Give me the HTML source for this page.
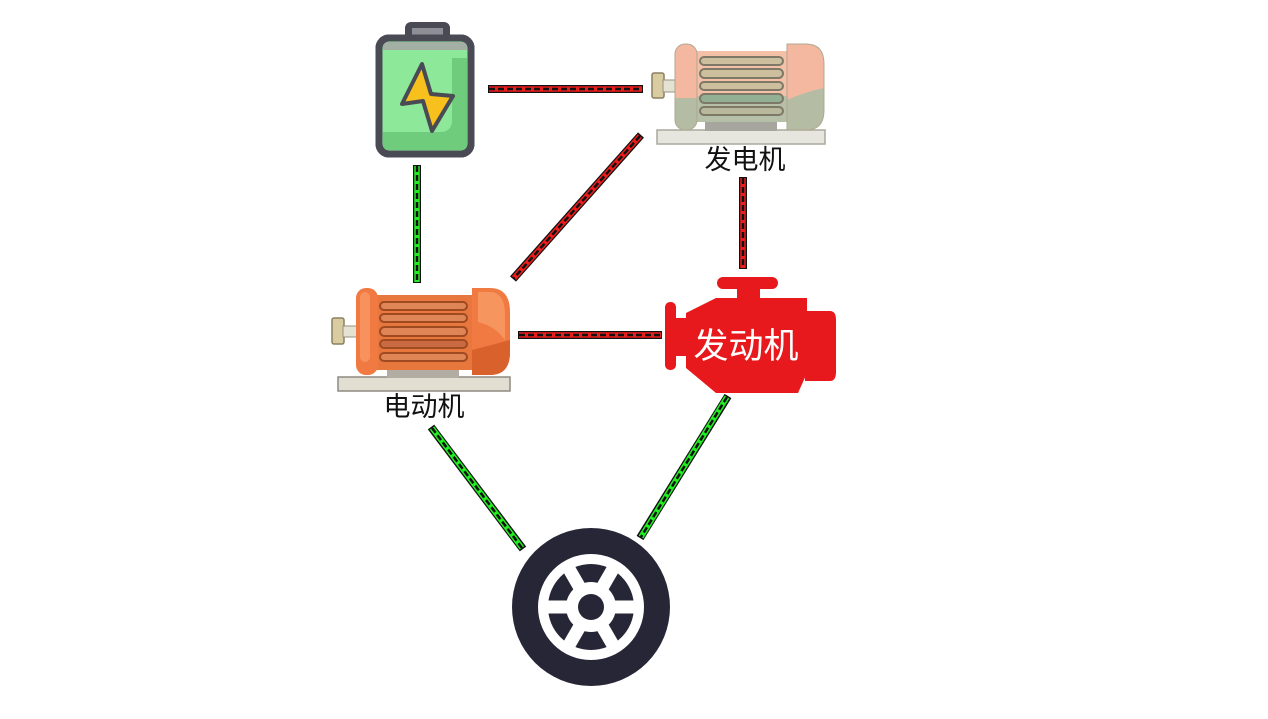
<!DOCTYPE html>
<html><head><meta charset="utf-8"><style>
html,body{margin:0;padding:0;background:#fff;}
svg{display:block;}
text{font-family:"Liberation Sans","Noto Sans CJK SC",sans-serif;}
</style></head><body>
<svg width="1268" height="719" viewBox="0 0 1268 719" xmlns="http://www.w3.org/2000/svg">
<defs>
<clipPath id="gcapL"><rect x="675" y="44" width="22" height="86" rx="10"/></clipPath>
<clipPath id="gcapR"><path d="M787 44 H806 Q824 44 824 64 V110 Q824 130 806 130 H787 Z"/></clipPath>
</defs>
<!-- connectors -->
<g fill="none" stroke-linecap="butt">
 <!-- red -->
 <g>
  <line x1="488" y1="89" x2="643" y2="89" stroke="#111" stroke-width="8"/>
  <line x1="489" y1="89" x2="642" y2="89" stroke="#ee1c1c" stroke-width="5.5"/>
  <line x1="489" y1="89" x2="642" y2="89" stroke="#111" stroke-width="2.5" stroke-dasharray="6 3"/>

  <line x1="641" y1="135" x2="513" y2="279" stroke="#111" stroke-width="8"/>
  <line x1="640" y1="136" x2="514" y2="278" stroke="#ee1c1c" stroke-width="5.5"/>
  <line x1="640" y1="136" x2="514" y2="278" stroke="#111" stroke-width="2.5" stroke-dasharray="6 3"/>

  <line x1="743" y1="177" x2="743" y2="269" stroke="#111" stroke-width="8"/>
  <line x1="743" y1="178" x2="743" y2="268" stroke="#ee1c1c" stroke-width="5.5"/>
  <line x1="743" y1="178" x2="743" y2="268" stroke="#111" stroke-width="2.5" stroke-dasharray="6 3"/>

  <line x1="518" y1="335" x2="662" y2="335" stroke="#111" stroke-width="8"/>
  <line x1="519" y1="335" x2="661" y2="335" stroke="#ee1c1c" stroke-width="5.5"/>
  <line x1="519" y1="335" x2="661" y2="335" stroke="#111" stroke-width="2.5" stroke-dasharray="6 3"/>
 </g>
 <!-- green -->
 <g>
  <line x1="417" y1="165" x2="417" y2="283" stroke="#111" stroke-width="8"/>
  <line x1="417" y1="166" x2="417" y2="282" stroke="#22ee22" stroke-width="5.5"/>
  <line x1="417" y1="166" x2="417" y2="282" stroke="#111" stroke-width="2.5" stroke-dasharray="6 3"/>

  <line x1="431" y1="427" x2="523" y2="549" stroke="#111" stroke-width="8"/>
  <line x1="432" y1="428" x2="522" y2="548" stroke="#22ee22" stroke-width="5.5"/>
  <line x1="432" y1="428" x2="522" y2="548" stroke="#111" stroke-width="2.5" stroke-dasharray="6 3"/>

  <line x1="728" y1="396" x2="640" y2="538" stroke="#111" stroke-width="8"/>
  <line x1="727" y1="397" x2="641" y2="537" stroke="#22ee22" stroke-width="5.5"/>
  <line x1="727" y1="397" x2="641" y2="537" stroke="#111" stroke-width="2.5" stroke-dasharray="6 3"/>
 </g>
</g>

<!-- battery -->
<g>
 <rect x="405" y="22" width="45" height="20" rx="6" fill="#4a4a54"/>
 <rect x="412" y="28" width="31" height="8" fill="#8e8e96"/>
 <rect x="379" y="38" width="92" height="116" rx="10" fill="#8ee89a" stroke="#4a4a54" stroke-width="7"/>
 <path d="M452 58 H467 V150 H383 V132 H440 Q452 132 452 120 Z" fill="#6fcc7c"/>
 <rect x="383" y="42" width="84" height="8" fill="#a3aea4"/>
 <rect x="379" y="38" width="92" height="116" rx="10" fill="none" stroke="#4a4a54" stroke-width="7"/>
 <path d="M422 64 L402 104 L423 101 L432 131 L453 96 L431 94 Z" fill="#f8c01c" stroke="#4a4a54" stroke-width="4" stroke-linejoin="round"/>
</g>

<!-- generator -->
<g>
 <rect x="652" y="73" width="12" height="25" rx="2" fill="#d8cca0" stroke="#8a8060" stroke-width="1.5"/>
 <rect x="663" y="80" width="14" height="12" fill="#e4e2d2" stroke="#999080" stroke-width="1"/>
 <rect x="657" y="130" width="168" height="14" fill="#e6e6de" stroke="#a8a89c" stroke-width="1.5"/>
 <rect x="705" y="120" width="72" height="11" fill="#a6a69e"/>
 <rect x="694" y="51" width="94" height="71" fill="#f4c0a8"/>
 <rect x="694" y="96" width="94" height="26" fill="#b6c0a8"/>
 <g clip-path="url(#gcapL)">
  <rect x="675" y="44" width="22" height="86" fill="#f4b8a0"/>
  <rect x="675" y="98" width="22" height="32" fill="#b4bca4"/>
 </g>
 <rect x="675" y="44" width="22" height="86" rx="10" fill="none" stroke="#b0a890" stroke-width="1"/>
 <g clip-path="url(#gcapR)">
  <rect x="787" y="44" width="37" height="86" fill="#f4b8a0"/>
  <path d="M787 100 Q805 92 824 88 V130 H787 Z" fill="#b4bca4"/>
 </g>
 <path d="M787 44 H806 Q824 44 824 64 V110 Q824 130 806 130 H787 Z" fill="none" stroke="#b0a890" stroke-width="1"/>
 <g stroke="#7e7866" stroke-width="2">
  <rect x="700" y="57" width="83" height="8" rx="4" fill="#cdbf9e"/>
  <rect x="700" y="69" width="83" height="9" rx="4.5" fill="#cdbf9e"/>
  <rect x="700" y="82" width="83" height="8" rx="4" fill="#cdbf9e"/>
  <rect x="700" y="94" width="83" height="9" rx="4.5" fill="#94b094"/>
  <rect x="700" y="107" width="83" height="8" rx="4" fill="#b8b89c"/>
 </g>
 <text x="745" y="169" font-size="27" text-anchor="middle" fill="#111">发电机</text>
</g>

<!-- motor -->
<g>
 <rect x="332" y="318" width="12" height="26" rx="2" fill="#d8cca0" stroke="#8a8060" stroke-width="1.5"/>
 <rect x="343" y="326" width="15" height="11" fill="#e4e2d2" stroke="#999080" stroke-width="1"/>
 <rect x="338" y="377" width="172" height="14" fill="#e2ded2" stroke="#8e8a80" stroke-width="1.5"/>
 <rect x="387" y="369" width="72" height="9" fill="#b2aca2"/>
 <rect x="374" y="295" width="99" height="75" fill="#e8773e"/>
 <rect x="356" y="288" width="22" height="87" rx="10" fill="#f07a42"/>
 <rect x="360" y="292" width="10" height="70" rx="5" fill="#f7915e"/>
 <path d="M472 288 H490 Q510 288 510 312 V352 Q510 375 490 375 H472 Z" fill="#f07a42"/>
 <path d="M478 292 H492 Q505 294 505 315 V340 Q495 326 478 322 Z" fill="#f7955f"/>
 <path d="M472 350 Q492 345 510 340 V352 Q510 375 490 375 H472 Z" fill="#d9612c"/>
 <g stroke="#a04a22" stroke-width="2" fill="#e08556">
  <rect x="380" y="302" width="87" height="8" rx="4"/>
  <rect x="380" y="314" width="87" height="8" rx="4"/>
  <rect x="380" y="327" width="87" height="9" rx="4.5"/>
  <rect x="380" y="340" width="87" height="8" rx="4" fill="#c96a42"/>
  <rect x="380" y="353" width="87" height="8" rx="4"/>
 </g>
 <text x="424" y="416" font-size="27" text-anchor="middle" fill="#111">电动机</text>
</g>

<!-- engine -->
<g fill="#e8191c">
 <rect x="717" y="277" width="61" height="12" rx="6"/>
 <rect x="737" y="286" width="23" height="14"/>
 <rect x="665" y="302" width="11" height="68" rx="5"/>
 <rect x="674" y="318" width="14" height="38"/>
 <path d="M686 313 L716 298 H807 V373 L798 393 H716 L686 368 Z"/>
 <path d="M805 311 H830 Q836 311 836 320 V372 Q836 381 830 381 H805 Z"/>
 <text x="746" y="358" font-size="35" text-anchor="middle" fill="#ffffff">发动机</text>
</g>

<!-- wheel -->
<g>
 <circle cx="591" cy="607" r="79" fill="#262636"/>
 <circle cx="591" cy="607" r="53" fill="#ffffff"/>
 <circle cx="591" cy="607" r="43" fill="#262636"/>
 <g stroke="#ffffff" stroke-width="13">
  <line x1="546" y1="607" x2="636" y2="607"/>
  <line x1="568.5" y1="568" x2="613.5" y2="646"/>
  <line x1="613.5" y1="568" x2="568.5" y2="646"/>
 </g>
 <circle cx="591" cy="607" r="25" fill="#ffffff"/>
 <circle cx="591" cy="607" r="13" fill="#262636"/>
</g>
</svg>
</body></html>
